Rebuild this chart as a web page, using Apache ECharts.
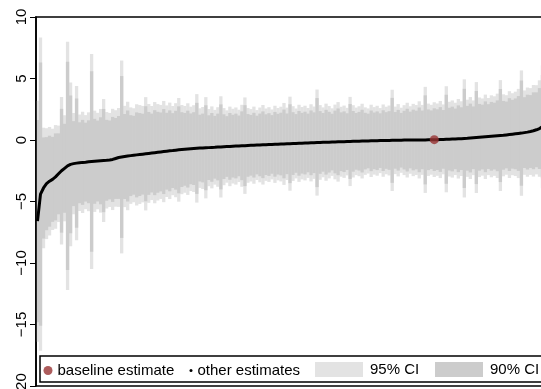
<!DOCTYPE html>
<html>
<head>
<meta charset="utf-8">
<script src="https://cdn.jsdelivr.net/npm/echarts@6/dist/echarts.min.js"></script>
<style>
  html, body { margin: 0; padding: 0; background: #fff; }
  #chart { width: 541px; height: 389px; }
</style>
</head>
<body>
<div id="chart"></div>
<script>
// Point estimates of every specification, sorted from smallest to largest
const estimate = [
  -6.6, -4.4, -3.9, -3.55, -3.35, -3.2, -3.0, -2.75, -2.5, -2.3,
  -2.1, -1.98, -1.92, -1.88, -1.85, -1.82, -1.8, -1.77, -1.75, -1.73,
  -1.71, -1.69, -1.67, -1.65, -1.62, -1.58, -1.5, -1.42, -1.38, -1.34,
  -1.3, -1.27, -1.24, -1.21, -1.18, -1.15, -1.12, -1.09, -1.06, -1.03,
  -1.0, -0.97, -0.94, -0.91, -0.88, -0.86, -0.83, -0.8, -0.78, -0.76,
  -0.74, -0.72, -0.7, -0.68, -0.66, -0.65, -0.63, -0.62, -0.6, -0.59,
  -0.57, -0.56, -0.54, -0.53, -0.52, -0.5, -0.49, -0.48, -0.47, -0.46,
  -0.44, -0.43, -0.42, -0.41, -0.4, -0.39, -0.38, -0.37, -0.36, -0.35,
  -0.34, -0.33, -0.32, -0.31, -0.3, -0.29, -0.28, -0.27, -0.26, -0.25,
  -0.24, -0.23, -0.22, -0.21, -0.2, -0.19, -0.18, -0.18, -0.17, -0.16,
  -0.15, -0.14, -0.14, -0.13, -0.12, -0.11, -0.11, -0.1, -0.09, -0.09,
  -0.08, -0.07, -0.07, -0.06, -0.05, -0.05, -0.04, -0.04, -0.03, -0.03,
  -0.02, -0.02, -0.01, -0.01, 0.0, 0.0, 0.0, 0.01, 0.01, 0.01,
  0.02, 0.02, 0.03, 0.03, 0.04, 0.05, 0.06, 0.07, 0.08, 0.09,
  0.1, 0.11, 0.13, 0.14, 0.16, 0.18, 0.2, 0.22, 0.24, 0.26,
  0.28, 0.3, 0.32, 0.34, 0.36, 0.38, 0.41, 0.44, 0.47, 0.5,
  0.53, 0.56, 0.6, 0.64, 0.69, 0.75, 0.83, 0.93, 1.08, 1.3,
  1.6, 2.0
];

// Standard error of each specification, same order
const stdError = [
  5.0, 6.5, 2.5, 2.3, 2.25, 2.1, 2.15, 2.0, 3.06, 2.2,
  5.15, 3.4, 2.1, 3.2, 2.0, 2.1, 1.95, 2.05, 4.46, 2.1,
  2.0, 2.15, 2.55, 2.0, 1.95, 2.1, 2.0, 2.05, 4.0, 2.1,
  2.25, 2.0, 1.95, 2.1, 2.05, 2.0, 2.35, 2.05, 1.95, 2.1,
  2.0, 1.95, 2.1, 1.9, 2.0, 1.85, 1.95, 2.15, 1.85, 1.8,
  1.9, 1.75, 1.8, 2.25, 1.65, 1.7, 2.1, 1.6, 1.7, 1.55,
  1.65, 2.1, 1.6, 1.5, 1.65, 1.55, 1.6, 1.5, 1.7, 2.0,
  1.55, 1.5, 1.6, 1.45, 1.55, 1.65, 1.5, 1.55, 1.45, 1.6,
  1.5, 1.55, 1.7, 1.5, 1.95, 1.55, 1.45, 1.6, 1.5, 1.55,
  1.45, 1.6, 1.5, 2.2, 1.55, 1.45, 1.6, 1.5, 1.4, 1.55,
  1.65, 1.45, 1.5, 1.4, 1.85, 1.5, 1.4, 1.45, 1.55, 1.4,
  1.35, 1.5, 1.4, 1.45, 1.35, 1.5, 1.4, 1.45, 2.1, 1.4,
  1.5, 1.35, 1.45, 1.55, 1.4, 1.5, 1.45, 1.6, 1.45, 2.2,
  1.5, 1.45, 1.55, 1.5, 1.6, 1.45, 2.2, 1.55, 1.6, 1.5,
  1.65, 1.55, 2.45, 1.6, 1.7, 1.55, 2.3, 1.65, 1.6, 1.75,
  1.6, 1.7, 1.65, 1.75, 2.3, 1.7, 1.65, 1.8, 1.7, 1.75,
  1.85, 2.6, 1.75, 1.85, 1.8, 1.9, 1.85, 2.0, 2.55, 1.95,
  2.1, 2.2
];

// Position (1-based) of the baseline specification in the sorted list
const baselineIndex = 133;

// Y-axis tick values
const yTicks = [-20, -15, -10, -5, 0, 5, 10];

const Z95 = 1.96;
const Z90 = 1.645;

const FONT = "'Liberation Sans', Arial, Helvetica, sans-serif";
const C95 = '#e3e3e3';
const C90 = '#cccccc';
const CBASE = '#993333';

const n = estimate.length;
const ci95 = estimate.map((e, k) => [k + 1, e - Z95 * stdError[k], e + Z95 * stdError[k]]);
const ci90 = estimate.map((e, k) => [k + 1, e - Z90 * stdError[k], e + Z90 * stdError[k]]);
const estPoints = estimate.map((e, k) => [k + 1, e]);
const basePoint = [[baselineIndex, estimate[baselineIndex - 1]]];

// Vertical interval bar for one specification
function intervalBar(params, api) {
  const i = api.value(0);
  const lo = api.coord([i, api.value(1)]);
  const hi = api.coord([i, api.value(2)]);
  const w = api.size([1, 0])[0];
  return {
    type: 'rect',
    shape: { x: lo[0] - w / 2 - 0.15, y: hi[1], width: w + 0.3, height: lo[1] - hi[1] },
    style: { fill: api.visual('color') }
  };
}

const legendBase = {
  orient: 'horizontal',
  padding: 0,
  itemGap: 0,
  selectedMode: false,
  z: 6,
  textStyle: { color: '#000', fontSize: 15, fontFamily: FONT }
};

const chart = echarts.init(document.getElementById('chart'), null, { renderer: 'canvas' });
chart.setOption({
  animation: false,
  backgroundColor: '#fff',
  grid: {
    show: true,
    outerBoundsMode: 'none',
    containLabel: false,
    left: 36, right: -12, top: 17, bottom: 3,
    borderColor: '#000', borderWidth: 1.6,
    backgroundColor: 'transparent'
  },
  xAxis: {
    type: 'value', min: 0.5, max: n + 0.5, show: false
  },
  yAxis: {
    type: 'value', min: yTicks[0], max: yTicks[yTicks.length - 1], interval: 5,
    z: 10,
    axisLine: { show: true, lineStyle: { color: '#000', width: 1.6 } },
    axisTick: { show: true, length: 6, lineStyle: { color: '#000', width: 1 } },
    splitLine: { show: false },
    axisLabel: {
      rotate: 90, margin: 7, color: '#000', fontSize: 15, fontFamily: FONT,
      hideOverlap: false, showMinLabel: true, showMaxLabel: true,
      formatter: v => String(v).replace('-', '\u2212')
    }
  },
  legend: [
    Object.assign({}, legendBase, {
      left: 43.5, top: 363, itemWidth: 9, itemHeight: 9,
      data: [{ name: 'baseline estimate', icon: 'circle', itemStyle: { color: CBASE } }]
    }),
    Object.assign({}, legendBase, {
      left: 189.5, top: 363, itemWidth: 3, itemHeight: 3,
      data: [{ name: 'other estimates', icon: 'circle', itemStyle: { color: '#000' } }]
    }),
    Object.assign({}, legendBase, {
      left: 315, top: 362, itemWidth: 48, itemHeight: 15,
      textStyle: Object.assign({}, legendBase.textStyle, { padding: [0, 0, 0, 2] }),
      data: [{ name: '95% CI', icon: 'rect', itemStyle: { color: C95 } }]
    }),
    Object.assign({}, legendBase, {
      left: 435, top: 362, itemWidth: 48, itemHeight: 15,
      textStyle: Object.assign({}, legendBase.textStyle, { padding: [0, 0, 0, 2] }),
      data: [{ name: '90% CI', icon: 'rect', itemStyle: { color: C90 } }]
    })
  ],
  graphic: [{
    type: 'rect',
    z: 5,
    shape: { x: 40, y: 356, width: 530, height: 26 },
    style: { fill: '#fff', stroke: '#000', lineWidth: 1.5 }
  }],
  series: [
    {
      name: '95% CI', type: 'custom', renderItem: intervalBar,
      itemStyle: { color: C95 }, encode: { x: 0, y: [1, 2] },
      data: ci95, z: 1, clip: true
    },
    {
      name: '90% CI', type: 'custom', renderItem: intervalBar,
      itemStyle: { color: C90 }, encode: { x: 0, y: [1, 2] },
      data: ci90, z: 2, clip: true
    },
    {
      name: 'other estimates', type: 'line', data: estPoints,
      showSymbol: false, symbol: 'none', smooth: false,
      lineStyle: { color: '#000', width: 3 }, itemStyle: { color: '#000' },
      z: 3, clip: true
    },
    {
      name: 'baseline estimate', type: 'scatter', data: basePoint,
      symbol: 'circle', symbolSize: 9,
      itemStyle: { color: CBASE }, z: 4
    }
  ]
});
</script>
</body>
</html>
